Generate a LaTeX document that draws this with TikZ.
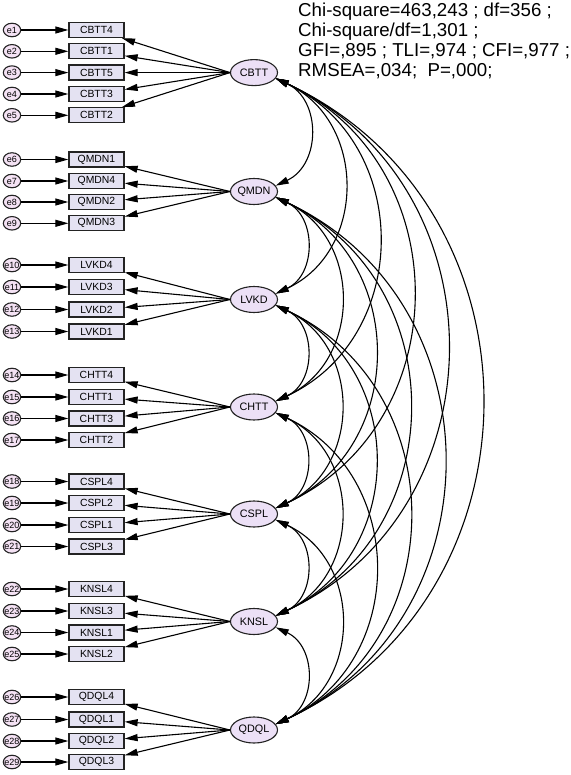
\documentclass[tikz,border=0pt]{standalone}
\usepackage{fontspec}
\setmainfont{Liberation Sans}
\usetikzlibrary{arrows.meta,shapes.geometric}
\definecolor{obsfill}{RGB}{228,226,242}
\definecolor{latfill}{RGB}{236,224,246}
\definecolor{errfill}{RGB}{244,226,244}
\definecolor{edgecol}{RGB}{35,35,35}
\tikzset{
  errc/.style={ellipse,draw=edgecol,line width=1.1pt,fill=errfill,minimum width=17.4pt,minimum height=13.5pt,inner sep=0pt,font=\fontsize{9}{9}\selectfont},
  obs/.style={rectangle,draw=edgecol,line width=1.3pt,fill=obsfill,minimum width=55pt,minimum height=15pt,inner sep=0pt,font=\fontsize{10.4}{10.4}\selectfont},
  lat/.style={ellipse,draw=edgecol,line width=1.1pt,fill=latfill,minimum width=47pt,minimum height=26pt,inner sep=0pt,font=\fontsize{10.8}{10.8}\selectfont},
  lnk/.style={draw=black,line width=1.1pt,-{Triangle[length=13pt,width=7pt]}},
  covar/.style={draw=black,line width=1.1pt,{Triangle[length=13pt,width=7pt]}-{Triangle[length=13pt,width=7pt]}},
  stat/.style={anchor=base west,inner sep=0pt,font=\fontsize{18.7}{19.9}\selectfont}
}
\newcommand\mkrow[4]{%
  \node[errc] (#1) at (12,-#2) {\makebox[0pt]{#1}};
  \node[obs] (b#3) at (96.5,-#2) {#3};
  \draw[lnk] (#1) -- (b#3);
  \draw[lnk] (#4.west) -- (b#3);
}
\begin{document}
\begin{tikzpicture}[x=1pt,y=1pt]
\useasboundingbox (0,0) rectangle (570,-775);
% latent factors
\node[lat] (CBTT) at (254,-72.6) {\makebox[0pt]{CBTT}};
\node[lat] (QMDN) at (254,-191.5) {\makebox[0pt]{QMDN}};
\node[lat] (LVKD) at (254,-299.5) {\makebox[0pt]{LVKD}};
\node[lat] (CHTT) at (254,-407) {\makebox[0pt]{CHTT}};
\node[lat] (CSPL) at (254,-514) {\makebox[0pt]{CSPL}};
\node[lat] (KNSL) at (254,-621.5) {\makebox[0pt]{KNSL}};
\node[lat] (QDQL) at (254,-730) {\makebox[0pt]{QDQL}};
% indicators
\mkrow{e1}{30}{CBTT4}{CBTT}
\mkrow{e2}{51.3}{CBTT1}{CBTT}
\mkrow{e3}{72.6}{CBTT5}{CBTT}
\mkrow{e4}{94}{CBTT3}{CBTT}
\mkrow{e5}{115.3}{CBTT2}{CBTT}
\mkrow{e6}{159.5}{QMDN1}{QMDN}
\mkrow{e7}{181}{QMDN4}{QMDN}
\mkrow{e8}{202}{QMDN2}{QMDN}
\mkrow{e9}{223.3}{QMDN3}{QMDN}
\mkrow{e10}{265}{LVKD4}{LVKD}
\mkrow{e11}{287}{LVKD3}{LVKD}
\mkrow{e12}{309.5}{LVKD2}{LVKD}
\mkrow{e13}{331.5}{LVKD1}{LVKD}
\mkrow{e14}{375}{CHTT4}{CHTT}
\mkrow{e15}{397}{CHTT1}{CHTT}
\mkrow{e16}{418.5}{CHTT3}{CHTT}
\mkrow{e17}{440}{CHTT2}{CHTT}
\mkrow{e18}{481.5}{CSPL4}{CSPL}
\mkrow{e19}{503}{CSPL2}{CSPL}
\mkrow{e20}{525}{CSPL1}{CSPL}
\mkrow{e21}{546.5}{CSPL3}{CSPL}
\mkrow{e22}{589}{KNSL4}{KNSL}
\mkrow{e23}{611}{KNSL3}{KNSL}
\mkrow{e24}{632.5}{KNSL1}{KNSL}
\mkrow{e25}{654}{KNSL2}{KNSL}
\mkrow{e26}{697}{QDQL4}{QDQL}
\mkrow{e27}{719.5}{QDQL1}{QDQL}
\mkrow{e28}{741}{QDQL2}{QDQL}
\mkrow{e29}{762}{QDQL3}{QDQL}
% covariances
\foreach \a/\b in {CBTT/QMDN,CBTT/LVKD,CBTT/CHTT,CBTT/CSPL,CBTT/KNSL,CBTT/QDQL,
  QMDN/LVKD,QMDN/CHTT,QMDN/CSPL,QMDN/KNSL,QMDN/QDQL,
  LVKD/CHTT,LVKD/CSPL,LVKD/KNSL,LVKD/QDQL,
  CHTT/CSPL,CHTT/KNSL,CHTT/QDQL,
  CSPL/KNSL,CSPL/QDQL,
  KNSL/QDQL}
  \draw[covar] (\a.-15) to[out=-25,in=25,looseness=1.2] (\b.15);
% fit statistics
\node[stat] (s1) at (298,-16.7) {Chi-square=463,243 ; df=356 ;};
\node[stat] (s2) at (298,-36.6) {Chi-square/df=1,301 ;};
\node[stat] (s3) at (298,-56.5) {GFI=,895 ; TLI=,974 ; CFI=,977 ;};
\node[stat] (s4) at (298,-76.4) {RMSEA=,034;\ \ P=,000;};
\end{tikzpicture}
\end{document}
